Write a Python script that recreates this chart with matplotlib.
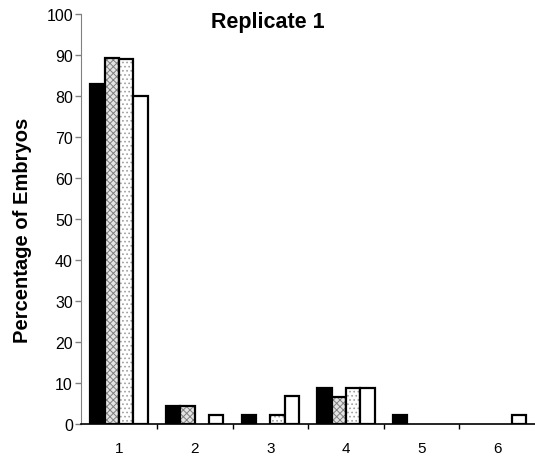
import matplotlib
matplotlib.use("Agg")
import matplotlib.pyplot as plt
import numpy as np
from matplotlib.ticker import FixedLocator

plt.rcParams["font.family"] = ["Liberation Sans", "DejaVu Sans"]
plt.rcParams["hatch.linewidth"] = 0.7

# data (percent of embryos per class)
categories = ["1", "2", "3", "4", "5", "6"]
solid = [83.0, 4.5, 2.3, 8.7, 2.3, 0.0]
hatched = [89.2, 4.5, 0.0, 6.5, 0.0, 0.0]
dotted = [89.0, 0.0, 2.3, 8.9, 0.0, 0.0]
empty = [80.0, 2.3, 6.8, 8.9, 0.0, 2.3]

fig = plt.figure(figsize=(5.35, 4.6), dpi=100)
ax = fig.add_axes([0.152, 0.076, 0.848, 0.891])

x = np.arange(len(categories))
w = 0.19
offs = [-1.5 * w, -0.5 * w, 0.5 * w, 1.5 * w]

# (values, face, hatch, hatch colour)
series = [
    (solid, "black", None, None),
    (hatched, "#e4e4e4", "xxxxx", "#808080"),
    (dotted, "white", "....", "#a0a0a0"),
    (empty, "white", None, None),
]

for (vals, face, hatch, hcol), off in zip(series, offs):
    vals = np.asarray(vals)
    keep = vals > 0
    if hatch:
        ax.bar(x[keep] + off, vals[keep], w, color=face, hatch=hatch,
               edgecolor=hcol, linewidth=0)
    ax.bar(x[keep] + off, vals[keep], w, facecolor=face if not hatch else "none",
           edgecolor="black", linewidth=1.6)

ax.set_xlim(-0.5, len(categories) - 0.5)
ax.set_ylim(0, 100)
ax.set_yticks(range(0, 101, 10))
ax.set_xticks(x)
ax.set_xticklabels(categories)
ax.xaxis.set_minor_locator(FixedLocator(np.arange(0.5, len(categories) - 0.5, 1)))
ax.tick_params(axis="x", which="major", length=0, labelsize=11, pad=12)
ax.tick_params(axis="x", which="minor", length=3.5, width=1, color="black")
ax.tick_params(axis="y", length=4, width=1, color="#808080", labelsize=11.5, pad=2)

for s in ("top", "right"):
    ax.spines[s].set_visible(False)
ax.spines["left"].set_color("#808080")
ax.spines["bottom"].set_color("black")
ax.spines["bottom"].set_linewidth(1.2)

ax.set_ylabel("Percentage of Embryos", fontsize=14.5, fontweight="bold")
ax.yaxis.set_label_coords(-0.108, 0.475)
ax.set_title("Replicate 1", fontsize=15.5, fontweight="bold", pad=0, x=0.41, y=0.968)

fig.savefig("out.png", dpi=100)
